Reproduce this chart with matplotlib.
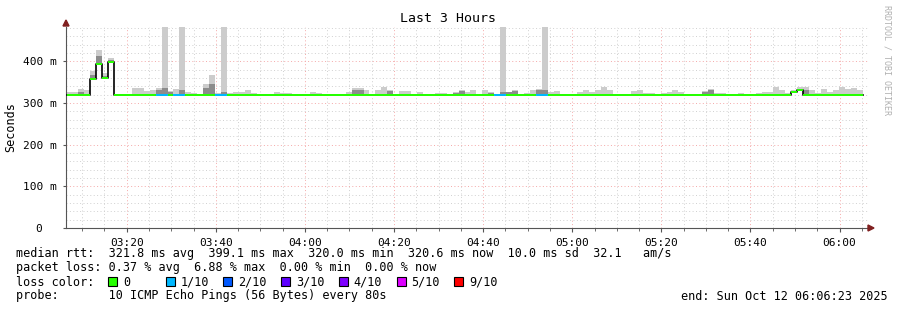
import matplotlib
matplotlib.use("Agg")
import matplotlib.pyplot as plt
from matplotlib.patches import Rectangle, Polygon
import numpy as np

# ---------------- data ----------------
# time axis (minutes after 03:00)
t_start = 6.383          # 03:06:23
t_end = 186.383          # 06:06:23
step_start = 6.5         # first RRD step
step_min = 80 / 60.0     # 80 s steps

tick_minutes = [20, 40, 60, 80, 100, 120, 140, 160, 180]
tick_labels = ["03:20", "03:40", "04:00", "04:20", "04:40", "05:00", "05:20", "05:40", "06:00"]

# median rtt per step (ms)
median = [320] * 134
median[4] = 358; median[5] = 393; median[6] = 360; median[7] = 399
median[122] = 325; median[123] = 330

# smoke: top of lightest layer (ms)
smoke_top = {
    0: 326, 1: 326, 2: 333, 3: 331, 4: 376, 5: 427, 6: 371, 7: 408,
    11: 336, 12: 336, 13: 328, 14: 331, 15: 335, 16: 490, 17: 328, 18: 333,
    19: 490, 20: 326, 21: 323, 23: 345, 24: 368, 25: 323, 26: 490, 27: 324,
    28: 326, 29: 326, 30: 331, 31: 324, 35: 326, 36: 324, 37: 324, 41: 326,
    42: 324, 47: 326, 48: 335, 49: 335, 50: 331, 52: 330, 53: 337, 54: 331,
    56: 328, 57: 328, 59: 326, 62: 324, 63: 324, 65: 326, 66: 331, 67: 326,
    68: 331, 70: 330, 71: 326, 73: 490, 74: 326, 75: 331, 77: 324, 78: 331,
    79: 333, 80: 490, 81: 326, 82: 328, 86: 326, 87: 331, 88: 326, 89: 332,
    90: 337, 91: 331, 95: 328, 96: 331, 97: 324, 98: 324, 100: 324, 101: 326,
    102: 331, 103: 326, 107: 328, 108: 333, 109: 324, 110: 324, 113: 324,
    116: 324, 117: 326, 118: 326, 119: 337, 120: 331, 121: 324, 122: 331,
    123: 338, 124: 337, 125: 331, 126: 324, 127: 333, 128: 326, 129: 331,
    130: 337, 131: 333, 132: 335, 133: 331,
}
# smoke: top of darker inner layer (ms)
smoke_mid = {
    2: 326, 4: 368, 5: 412, 6: 365, 7: 404, 15: 330, 16: 335, 17: 326,
    19: 330, 23: 335, 24: 345, 26: 325, 48: 330, 49: 332, 54: 328, 65: 324,
    66: 328, 71: 324, 73: 325, 74: 325, 75: 329, 79: 330, 80: 332, 107: 326,
    108: 331, 122: 329, 123: 334, 124: 332,
}
# loss per step in tenths
loss = [0] * 134
for i in (15, 16, 18, 19, 25, 26, 72, 73, 79, 80):
    loss[i] = 1

loss_levels = ["0", "1/10", "2/10", "3/10", "4/10", "5/10", "9/10"]
loss_colors = ["#26ff00", "#00b8ff", "#0059ff", "#5e00ff", "#7e00ff", "#dd00ff", "#ff0000"]

stats_lines = [
    "median rtt:  321.8 ms avg  399.1 ms max  320.0 ms min  320.6 ms now  10.0 ms sd  32.1   am/s",
    "packet loss: 0.37 % avg  6.88 % max  0.00 % min  0.00 % now",
]
probe_line = "probe:       10 ICMP Echo Pings (56 Bytes) every 80s"
end_line = "end: Sun Oct 12 06:06:23 2025"

# ---------------- figure ----------------
W, H = 897, 310
fig = plt.figure(figsize=(W / 100, H / 100), dpi=100)
fig.patch.set_facecolor("white")
ax_l, ax_r, ax_b, ax_t = 66, 868, 228, 27
ax = fig.add_axes([ax_l / W, 1 - ax_b / H, (ax_r - ax_l) / W, (ax_b - ax_t) / H])
ymax = 482
ax.set_xlim(t_start, t_end)
ax.set_ylim(0, ymax)

mono = "DejaVu Sans Mono"

# grid
minor_col = "#d0d0d0"
major_col = "#f4a8a8"
dots = (0, (1, 2.5))
for m in np.arange(10, 186, 5):
    if m < t_start or m > t_end:
        continue
    col = major_col if m % 20 == 0 else minor_col
    ax.axvline(m, color=col, lw=0.7, ls=dots, zorder=0)
for v in range(20, 481, 20):
    col = major_col if v % 100 == 0 else minor_col
    ax.axhline(v, color=col, lw=0.7, ls=dots, zorder=0)

n = len(median)
lefts = step_start + np.arange(n) * step_min
med = np.array(median, dtype=float)

# smoke
for i, top in smoke_top.items():
    ax.bar(lefts[i], top - med[i], bottom=med[i], width=step_min, align="edge",
           color="#cccccc", lw=0, zorder=2)
for i, top in smoke_mid.items():
    ax.bar(lefts[i], top - med[i], bottom=med[i], width=step_min, align="edge",
           color="#8c8c8c", lw=0, zorder=3)

# median black step line
xs = np.append(lefts, lefts[-1] + step_min)
ax.step(xs, np.append(med, med[-1]), where="post", color="black", lw=1.2, zorder=4)

# loss-coloured median band
band = 2.4
for i in range(n):
    ax.bar(lefts[i], 2 * band, bottom=med[i] - band, width=step_min, align="edge",
           color=loss_colors[loss[i]], lw=0, zorder=5)

# axes styling
for s in ("top", "right"):
    ax.spines[s].set_visible(False)
ax.spines["left"].set_color("#555555")
ax.spines["bottom"].set_color("#555555")
ax.set_xticks(tick_minutes)
ax.set_xticklabels(tick_labels, fontfamily=mono, fontsize=8)
ax.set_xticks(np.arange(10, 186, 5), minor=True)
ax.tick_params(axis="x", which="major", length=3, color="#555555", pad=4)
ax.tick_params(axis="x", which="minor", length=2, color="#555555")
yt = [0, 100, 200, 300, 400]
ax.set_yticks(yt)
ax.set_yticklabels(["0  ", "100 m", "200 m", "300 m", "400 m"], fontfamily=mono, fontsize=8)
ax.tick_params(axis="y", length=2, color="#555555", pad=5)

def px(x, y):
    return (x / W, 1 - y / H)

fig.text(11 / W, 1 - 127 / H, "Seconds", rotation=90, ha="center", va="center",
         fontfamily=mono, fontsize=8.5)

# axis arrows
fig.add_artist(Polygon([px(63, 26), px(69, 26), px(66, 20)], closed=True,
                       transform=fig.transFigure, color="#802020"))
fig.add_artist(Polygon([px(868, 225), px(868, 231), px(874, 228)], closed=True,
                       transform=fig.transFigure, color="#802020"))

# title and watermark
fig.text(448 / W, 1 - 19 / H, "Last 3 Hours", ha="center", va="center",
         fontfamily=mono, fontsize=9.5)
fig.text(887 / W, 1 - 60 / H, "RRDTOOL / TOBI OETIKER", ha="center", va="center",
         rotation=-90, fontfamily=mono, fontsize=6, color="#b0b0b0")

# legend text
fs = 8.5
fig.text(16 / W, 1 - 254 / H, stats_lines[0], ha="left", va="center", fontfamily=mono, fontsize=fs)
fig.text(16 / W, 1 - 268 / H, stats_lines[1], ha="left", va="center", fontfamily=mono, fontsize=fs)
fig.text(16 / W, 1 - 282 / H, "loss color:", ha="left", va="center", fontfamily=mono, fontsize=fs)
box_x0 = 108
box_dx = 57.7
for k, (lab, col) in enumerate(zip(loss_levels, loss_colors)):
    bx = box_x0 + k * box_dx
    fig.add_artist(Rectangle(px(bx, 286), 9 / W, 9 / H, transform=fig.transFigure,
                             facecolor=col, edgecolor="black", lw=0.8))
    fig.text((bx + 15) / W, 1 - 282 / H, lab, ha="left", va="center", fontfamily=mono, fontsize=fs)
fig.text(16 / W, 1 - 296 / H, probe_line, ha="left", va="center", fontfamily=mono, fontsize=fs)
fig.text(888 / W, 1 - 296 / H, end_line, ha="right", va="center", fontfamily=mono, fontsize=fs)

fig.savefig("out.png", dpi=100, facecolor="white")
